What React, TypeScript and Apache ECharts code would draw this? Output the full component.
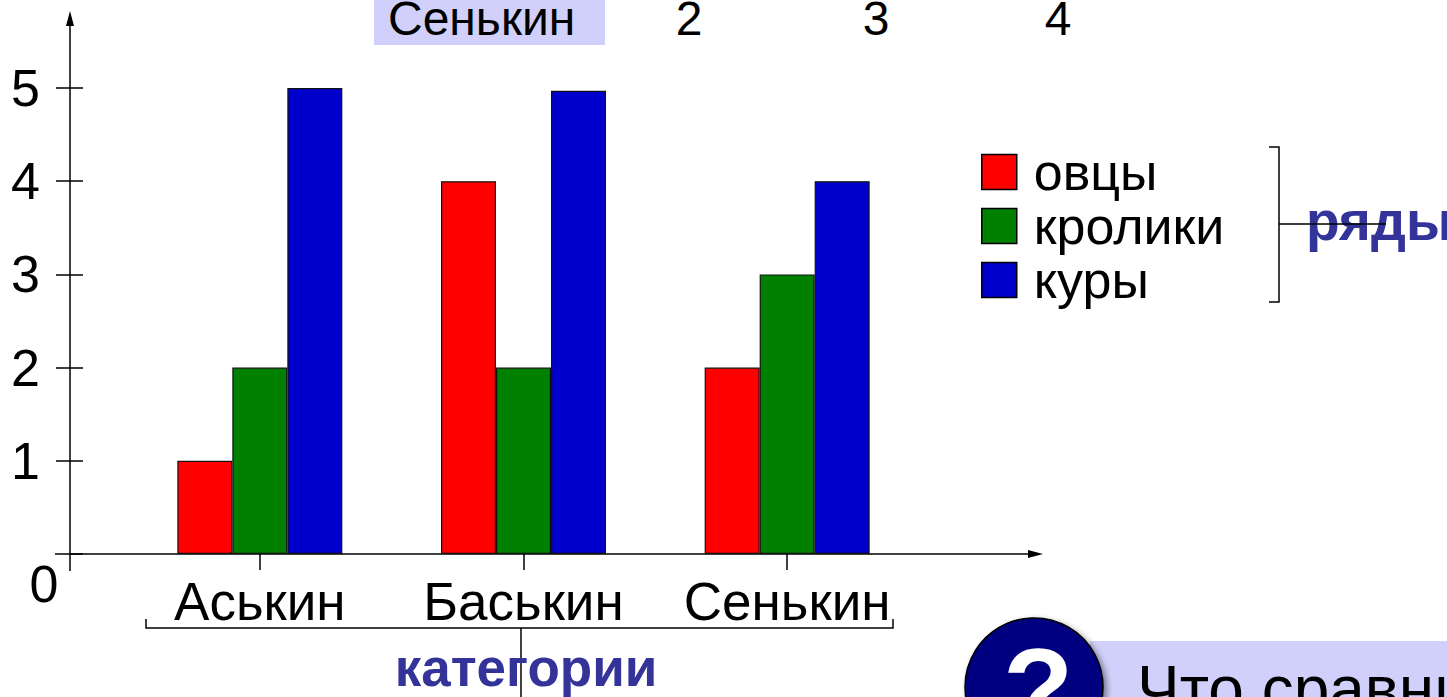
import React, { useEffect, useRef } from "react";
import * as echarts from "echarts";

const categories = ["Аськин", "Баськин", "Сенькин"];
const seriesNames = ["овцы", "кролики", "куры"];
const sheepValues = [1, 4, 2];
const rabbitValues = [2, 2, 3];
const henValues = [5, 4.97, 4];
const seriesColors = ["#ff0000", "#008000", "#0000cc"];
const topRowLabels = ["Сенькин", "2", "3", "4"];
const categoryCaption = "категории";
const seriesCaption = "ряды";
const questionText = "Что сравни";

const FONT = '"Liberation Sans", Arial, sans-serif';
const W = 1447;
const H = 697;
const GRID_LEFT = 128;
const GRID_RIGHT = 528;
const GRID_TOP = 88;
const GRID_BOTTOM = 143;
const AXIS_X = 70;
const AXIS_Y = H - GRID_BOTTOM;

export default function App() {
  const ref = useRef<HTMLDivElement>(null);
  useEffect(() => {
    const chart = echarts.init(ref.current!, null, { renderer: "svg" });
    const valueSets = [sheepValues, rabbitValues, henValues];
    const lineStyle = { stroke: "#000", lineWidth: 1.5 };
    const option: any = {
      animation: false,
      backgroundColor: "#fff",
      grid: { left: GRID_LEFT, right: GRID_RIGHT, top: GRID_TOP, bottom: GRID_BOTTOM },
      legend: {
        orient: "vertical",
        left: 981,
        top: 146,
        padding: 0,
        itemWidth: 35,
        itemHeight: 35,
        itemGap: 2,
        icon: "rect",
        itemStyle: { borderColor: "#000", borderWidth: 1.5 },
        textStyle: { fontSize: 52, color: "#000", fontFamily: FONT, padding: [0, 0, 0, 12] },
        data: seriesNames,
      },
      xAxis: {
        type: "category",
        data: categories,
        axisLine: { show: false },
        axisTick: { show: true, alignWithLabel: true, length: 16, lineStyle: { color: "#000", width: 1.5 } },
        axisLabel: { fontSize: 53, color: "#000", fontFamily: FONT, margin: 21, interval: 0, hideOverlap: false },
        splitLine: { show: false },
      },
      yAxis: [
        {
          type: "value",
          min: 0,
          max: 5,
          interval: 1,
          position: "left",
          offset: GRID_LEFT - AXIS_X,
          axisLine: { show: false },
          axisTick: { show: true, length: 14, lineStyle: { color: "#000", width: 1.5 } },
          axisLabel: { fontSize: 52, color: "#000", fontFamily: FONT, margin: 30, showMinLabel: false },
          splitLine: { show: false },
        },
        {
          type: "value",
          min: 0,
          max: 5,
          interval: 1,
          position: "left",
          offset: GRID_LEFT - AXIS_X,
          axisLine: { show: false },
          axisTick: { show: true, inside: true, length: 13, lineStyle: { color: "#000", width: 1.5 } },
          axisLabel: { show: false },
          splitLine: { show: false },
        },
      ],
      series: seriesNames.map((name, i) => ({
        type: "bar",
        name,
        data: valueSets[i],
        barWidth: 55,
        barGap: "0%",
        itemStyle: { color: seriesColors[i], borderColor: "#111", borderWidth: 1.2 },
      })),
      graphic: [
        // top row
        { type: "rect", shape: { x: 374, y: 0, width: 231, height: 45 }, style: { fill: "#d0d0fa" } },
        { type: "text", style: { text: topRowLabels[0], x: 388, y: 18, fontSize: 48, fontFamily: FONT, fill: "#000", align: "left", verticalAlign: "middle" } },
        { type: "text", style: { text: topRowLabels[1], x: 689, y: 18, fontSize: 48, fontFamily: FONT, fill: "#000", align: "center", verticalAlign: "middle" } },
        { type: "text", style: { text: topRowLabels[2], x: 876, y: 18, fontSize: 48, fontFamily: FONT, fill: "#000", align: "center", verticalAlign: "middle" } },
        { type: "text", style: { text: topRowLabels[3], x: 1058, y: 18, fontSize: 48, fontFamily: FONT, fill: "#000", align: "center", verticalAlign: "middle" } },
        // axes
        { type: "line", shape: { x1: AXIS_X, y1: 24, x2: AXIS_X, y2: 571 }, style: lineStyle },
        { type: "polygon", shape: { points: [[AXIS_X, 11], [AXIS_X - 4, 26], [AXIS_X + 4, 26]] }, style: { fill: "#000" } },
        { type: "line", shape: { x1: 55, y1: AXIS_Y, x2: 1030, y2: AXIS_Y }, style: lineStyle },
        { type: "polygon", shape: { points: [[1043, AXIS_Y], [1028, AXIS_Y - 4], [1028, AXIS_Y + 4]] }, style: { fill: "#000" } },
        { type: "text", style: { text: "0", x: 44, y: 584, fontSize: 52, fontFamily: FONT, fill: "#000", align: "center", verticalAlign: "middle" } },
        // category bracket
        { type: "polyline", shape: { points: [[146, 619], [146, 628], [893, 628], [893, 619]] }, style: { stroke: "#000", lineWidth: 1.5, fill: null } },
        { type: "line", shape: { x1: 521, y1: 628, x2: 521, y2: 697 }, style: lineStyle },
        { type: "text", z: 10, style: { text: categoryCaption, x: 526, y: 667, fontSize: 53, fontWeight: "bold", fontFamily: FONT, fill: "#333399", align: "center", verticalAlign: "middle" } },
        // series bracket
        { type: "polyline", shape: { points: [[1269, 147], [1279, 147], [1279, 302], [1269, 302]] }, style: { stroke: "#000", lineWidth: 1.5, fill: null } },
        { type: "text", z: 10, style: { text: seriesCaption, x: 1306, y: 221, fontSize: 55, fontWeight: "bold", fontFamily: FONT, fill: "#333399", align: "left", verticalAlign: "middle" } },
        { type: "line", z: 11, shape: { x1: 1279, y1: 224, x2: 1386, y2: 224 }, style: { stroke: "#000", lineWidth: 1.5 } },
        // question box
        { type: "rect", shape: { x: 1090, y: 641, width: 360, height: 60 }, style: { fill: "#d0d0fa" } },
        { type: "text", style: { text: questionText, x: 1137, y: 689, fontSize: 64, fontFamily: FONT, fill: "#000", align: "left", verticalAlign: "middle" } },
        {
          type: "circle",
          shape: { cx: 1034, cy: 687, r: 69 },
          style: { fill: "#000080", stroke: "#000", lineWidth: 1.5, shadowBlur: 6, shadowColor: "rgba(0,0,0,0.45)", shadowOffsetX: 3, shadowOffsetY: 3 },
        },
        { type: "text", style: { text: "?", x: 1038, y: 689, fontSize: 115, fontWeight: "bold", fontFamily: FONT, fill: "#fff", align: "center", verticalAlign: "middle" } },
      ],
    };
    chart.setOption(option);
    return () => chart.dispose();
  }, []);
  return <div ref={ref} style={{ position: "fixed", left: 0, top: 0, width: W, height: H }} />;
}
